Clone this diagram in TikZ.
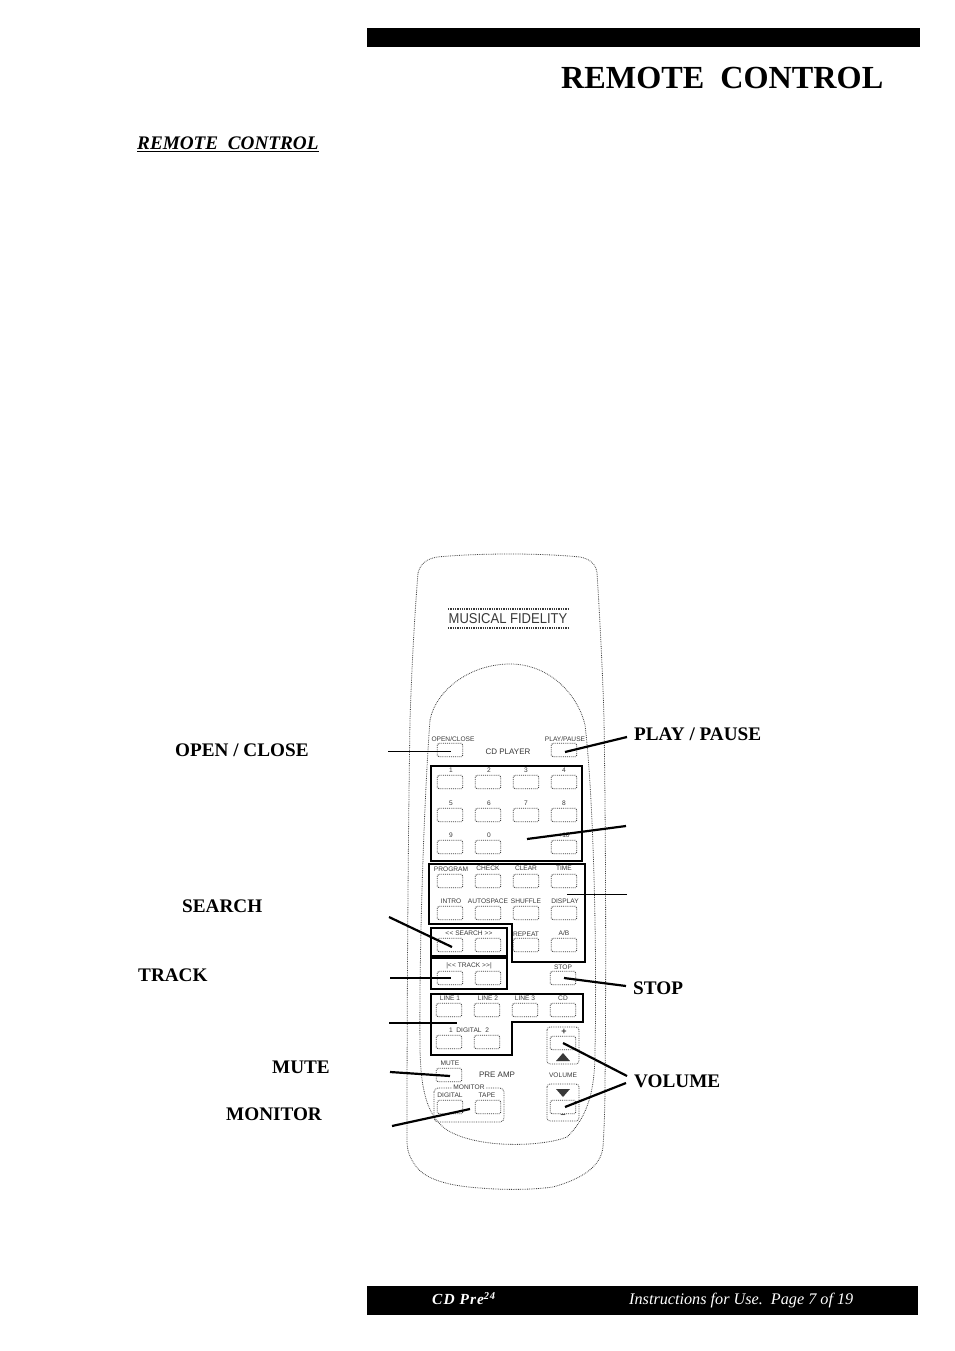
\documentclass[tikz,border=0pt]{standalone}
\usepackage{fontspec}
\setmainfont{Liberation Serif}
\setsansfont{Liberation Sans}
\definecolor{photo}{gray}{0.25}
\definecolor{printed}{gray}{0.22}
\newcommand{\lts}{\textless\kern0.3pt\textless}
\newcommand{\gts}{\textgreater\kern0.3pt\textgreater}
\tikzset{
  btn/.style={draw=photo,line width=0.9pt,densely dotted,rounded corners=1.6pt,minimum width=25.5pt,minimum height=13.5pt,inner sep=0pt},
  tiny/.style={inner sep=0pt,text=printed,font=\sffamily\fontsize{6.6}{7}\selectfont},
  midlabel/.style={inner sep=0pt,text=printed,font=\sffamily\fontsize{8}{9}\selectfont},
  outline/.style={draw=photo,line width=0.8pt,densely dotted},
  groupbox/.style={draw=black,line width=2pt,miter limit=10},
  callout/.style={inner sep=0pt,anchor=base west,font=\bfseries\fontsize{19.2}{22}\selectfont},
  thin lead/.style={draw=black,line width=1pt},
  thick lead/.style={draw=black,line width=2.2pt},
}
\begin{document}
\begin{tikzpicture}[x=1pt,y=-1pt]
\useasboundingbox (0,0) rectangle (954,1351);
% header and footer
\fill[black] (367,28) rectangle (920,47);
\fill[black] (367,1286) rectangle (918,1315);
\node[inner sep=0pt,anchor=base west,font=\bfseries\fontsize{32.2}{36}\selectfont] (title) at (561,89) {REMOTE\ \ CONTROL};
\node[inner sep=0pt,anchor=base west,font=\bfseries\itshape\fontsize{19.2}{22}\selectfont] (section) at (137,150) {\underline{REMOTE\ \ CONTROL}};
\node[inner sep=0pt,anchor=base west,text=white,font=\bfseries\itshape\fontsize{15.4}{18}\selectfont] (model) at (432,1304) {\addfontfeature{LetterSpace=7}CD Pre\raisebox{4.5pt}{\fontsize{10.5}{11}\selectfont 24}};
\node[inner sep=0pt,anchor=base west,text=white,font=\itshape\fontsize{16.2}{18}\selectfont] (pageinfo) at (629,1304) {Instructions for Use.\ \ Page 7 of 19};
% remote body
\draw[outline] (418,573) .. controls (421,562) and (428,559) .. (437,557)
  .. controls (480,553) and (540,553) .. (580,557)
  .. controls (590,559) and (596,564) .. (597,573)
  .. controls (600,620) and (603,680) .. (604,720)
  .. controls (606,850) and (606,1000) .. (605,1083)
  .. controls (605,1110) and (604,1130) .. (603,1147)
  .. controls (601,1165) and (585,1178) .. (553,1187)
  .. controls (530,1190) and (505,1190) .. (480,1188)
  .. controls (450,1186) and (425,1180) .. (415,1165)
  .. controls (408,1155) and (407,1148) .. (407,1140)
  .. controls (407,1000) and (408,850) .. (410,720)
  .. controls (412,660) and (415,610) .. (418,573) -- cycle;
% inner panel
\draw[outline] (430,720) .. controls (436,690) and (470,664) .. (510,664)
  .. controls (550,664) and (578,695) .. (585,725)
  .. controls (594,800) and (597,960) .. (595,1050)
  .. controls (595,1085) and (590,1115) .. (567,1137)
  .. controls (545,1146) and (480,1150) .. (447,1130)
  .. controls (425,1115) and (421,1085) .. (420,1050)
  .. controls (419,950) and (424,800) .. (430,720);
% logo
\draw[printed,line width=1.3pt,densely dotted] (448,609) -- (568,609);
\draw[printed,line width=1.3pt,densely dotted] (448,628) -- (568,628);
\node[inner sep=0pt,text=printed,font=\sffamily\fontsize{14.3}{16}\selectfont] (logo) at (508,619) {\scalebox{0.91}[1]{MUSICAL FIDELITY}};
% button groups
\draw[outline,rounded corners=3pt] (547,1027) rectangle (579,1064);
\draw[outline,rounded corners=3pt] (547,1084) rectangle (579,1121);
\draw[outline,rounded corners=4pt] (434,1088) rectangle (504,1122);
\fill[printed] (563,1053) -- (570,1061) -- (556,1061) -- cycle;
\fill[printed] (563,1097) -- (570,1089) -- (556,1089) -- cycle;
% buttons
\foreach \nm/\cx/\cy in {
  openclose/450/750, playpause/564/750,
  n1/450/782, n2/488/782, n3/526/782, n4/564/782,
  n5/450/815, n6/488/815, n7/526/815, n8/564/815,
  n9/450/847, n0/488/847, n10/564/847,
  program/450/881, check/488/881, clear/526/881, time/564/881,
  intro/450/913, autospace/488/913, shuffle/526/913, display/564/913,
  searchl/450/945, searchr/488/945, repeat/526/945, ab/564/945,
  trackl/450/978, trackr/488/978, stopb/563/978,
  line1/449/1010, line2/487/1010, line3/525/1010, cd/563/1010,
  digital1/449/1042, digital2/487/1042, volup/563/1043,
  muteb/449/1075, mondig/450/1107, montape/488/1107, voldn/563/1107}
  {\node[btn] (\nm) at (\cx,\cy) {};}
% button captions
\node[tiny] (tOC) at (453,739) {OPEN/CLOSE};
\node[tiny] (tPP) at (565,739) {PLAY/PAUSE};
\node[tiny] (tAB) at (564,933) {A/B};
\node[midlabel] (tCD) at (508,752) {CD PLAYER};
\foreach \nm/\cx/\cy/\txt in {
  t1/451/770/1, t2/489/770/2, t3/526/770/3, t4/564/770/4,
  t5/451/803/5, t6/489/803/6, t7/526/803/7, t8/564/803/8,
  t9/451/835/9, t0/489/835/0, t10/564/835/+10,
  tProg/451/869/PROGRAM, tCheck/488/868/CHECK, tClear/526/868/CLEAR, tTime/564/868/TIME,
  tIntro/451/901/INTRO, tAuto/488/901/AUTOSPACE, tShuf/526/901/SHUFFLE, tDisp/565/901/DISPLAY,
  tSearch/469/933/{\lts{} SEARCH \gts},
  tRep/526/934/REPEAT,
  tTrack/469/966/{\textbar\lts{} TRACK \gts\textbar},
  tStop/563/967/STOP,
  tL1/450/998/LINE 1, tL2/488/998/LINE 2, tL3/525/998/LINE 3, tLCD/563/998/CD,
  tDig/469/1030/{1\ \ DIGITAL\ \ 2}, tMute/450/1063/MUTE,
  tDigM/450/1095/DIGITAL, tTape/487/1095/TAPE, tVol/563/1075/VOLUME}
  {\node[tiny] (\nm) at (\cx,\cy) {\txt};}
\node[midlabel] (tPre) at (497,1075) {PRE AMP};
\node[tiny,fill=white] (tMon) at (469,1087) {\,MONITOR\,};
\node[inner sep=0pt,text=printed,font=\sffamily\bfseries\fontsize{9}{9}\selectfont] (tPlus) at (564,1032) {+};
\node[inner sep=0pt,text=printed,font=\sffamily\bfseries\fontsize{9}{9}\selectfont] (tMinus) at (563,1116) {–};
% heavy group boxes
\draw[groupbox] (431,766) rectangle (582,861);
\draw[groupbox] (429,864) -- (585,864) -- (585,962) -- (512,962) -- (512,924) -- (429,924) -- cycle;
\draw[groupbox] (431,928) rectangle (507,956);
\draw[groupbox] (431,958) rectangle (507,989);
\draw[groupbox] (431,994) -- (583,994) -- (583,1022) -- (512,1022) -- (512,1055) -- (431,1055) -- cycle;
% callout labels
\node[callout] (lOpen) at (175,756) {OPEN / CLOSE};
\node[callout] (lPlay) at (634,740) {PLAY / PAUSE};
\node[callout] (lSearch) at (182,912) {SEARCH};
\node[callout] (lTrack) at (138,981) {TRACK};
\node[callout] (lStop) at (633,994) {STOP};
\node[callout] (lVol) at (634,1087) {VOLUME};
\node[callout] (lMute) at (272,1073) {MUTE};
\node[callout] (lMon) at (226,1120) {MONITOR};
% leader ends
\coordinate (a1) at (388,751);  \coordinate (b1) at (451,751);
\coordinate (a2) at (627,737);  \coordinate (b2) at (565,752);
\coordinate (a3) at (626,826);  \coordinate (b3) at (527,839);
\coordinate (a4) at (627,894);  \coordinate (b4) at (567,894);
\coordinate (a5) at (389,917);  \coordinate (b5) at (452,947);
\coordinate (a6) at (390,978);  \coordinate (b6) at (451,978);
\coordinate (a7) at (389,1023); \coordinate (b7) at (457,1023);
\coordinate (a8) at (390,1072); \coordinate (b8) at (450,1076);
\coordinate (a9) at (392,1126); \coordinate (b9) at (470,1109);
\coordinate (a10) at (626,986); \coordinate (b10) at (564,978);
\coordinate (a11) at (627,1076);\coordinate (b11) at (563,1043);
\coordinate (a12) at (626,1083);\coordinate (b12) at (565,1107);
\draw[thin lead] (a1) -- (b1);
\draw[thin lead] (a4) -- (b4);
\foreach \i in {2,3,5,6,7,8,9,10,11,12}
  {\draw[thick lead] (a\i) -- (b\i);}
\end{tikzpicture}
\end{document}
